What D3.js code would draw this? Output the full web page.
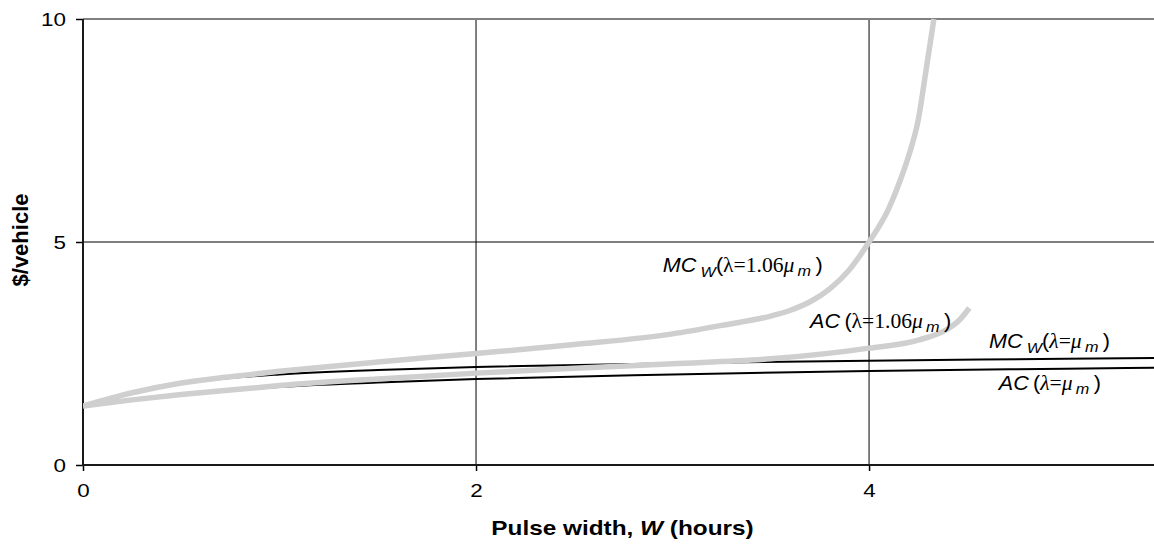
<!DOCTYPE html>
<html>
<head>
<meta charset="utf-8">
<script src="https://cdn.jsdelivr.net/npm/d3@7"></script>
<style>
  body { margin: 0; background: #fff; }
  svg { display: block; font-family: Arial, "Liberation Sans", sans-serif; }
</style>
</head>
<body>
<div id="chart"></div>
<script>
// Pulse width W (hours) and $/vehicle
const mcHighW = [0, 0.25, 0.5, 0.75, 1, 1.5, 2, 2.5, 3, 3.25, 3.5, 3.6, 3.7, 3.8, 3.9, 4.0, 4.1, 4.16, 4.21, 4.25, 4.29, 4.33];
const mcHighV = [1.32, 1.62, 1.84, 1.98, 2.1, 2.31, 2.5, 2.7, 2.94, 3.13, 3.34, 3.47, 3.66, 3.95, 4.38, 5.0, 5.75, 6.4, 7.05, 7.73, 8.85, 10];

const acHighW = [0, 0.25, 0.5, 0.75, 1, 1.5, 2, 2.5, 3, 3.5, 4, 4.25, 4.4, 4.46, 4.51];
const acHighV = [1.32, 1.46, 1.58, 1.68, 1.78, 1.93, 2.06, 2.17, 2.27, 2.38, 2.62, 2.8, 3.05, 3.25, 3.52];

const mcLowW = [0, 0.25, 0.5, 0.75, 1, 1.5, 2, 3, 4, 5, 5.45];
const mcLowV = [1.32, 1.6, 1.82, 1.95, 2.03, 2.13, 2.2, 2.28, 2.34, 2.38, 2.4];

const acLowW = [0, 0.25, 0.5, 0.75, 1, 1.5, 2, 3, 4, 5, 5.45];
const acLowV = [1.32, 1.45, 1.57, 1.66, 1.75, 1.85, 1.93, 2.03, 2.11, 2.16, 2.18];

const xTicks = [0, 2, 4];
const yTicks = [0, 5, 10];

// label anchor points in data units (W, $/vehicle)
const labelW = [2.95, 3.70, 4.61, 4.66];
const labelV = [4.33, 3.07, 2.62, 1.68];
const labelHigh = [true, true, false, false];
const labelName = ["MC", "AC", "MC", "AC"];

const width = 1154, height = 552;
const margin = { top: 19, right: 0, bottom: 87, left: 83 };
const stretch = 1.18;   // the original text is wider than it is tall

const svg = d3.select('#chart').append('svg')
  .attr('width', width)
  .attr('height', height);

const x = d3.scaleLinear().domain([0, 5.45]).range([margin.left, width - margin.right]);
const y = d3.scaleLinear().domain([0, 10]).range([height - margin.bottom, margin.top]);

// grid lines
svg.append('g')
  .selectAll('line')
  .data(xTicks.filter(d => d > 0))
  .join('line')
  .attr('x1', d => x(d)).attr('x2', d => x(d))
  .attr('y1', y(0)).attr('y2', y(10))
  .attr('stroke', '#000').attr('stroke-width', 1);

svg.append('g')
  .selectAll('line')
  .data(yTicks.filter(d => d > 0 && d < 10))
  .join('line')
  .attr('x1', x(0)).attr('x2', width)
  .attr('y1', d => y(d)).attr('y2', d => y(d))
  .attr('stroke', '#000').attr('stroke-width', 1);

// top border in grey
svg.append('line')
  .attr('x1', x(0)).attr('x2', width)
  .attr('y1', y(10)).attr('y2', y(10))
  .attr('stroke', '#808080').attr('stroke-width', 2);

// axes
const xAxis = svg.append('g')
  .attr('transform', `translate(0,${y(0)})`)
  .call(d3.axisBottom(x).tickValues(xTicks).tickSize(6).tickPadding(12).tickFormat(d3.format('d')));
const yAxis = svg.append('g')
  .attr('transform', `translate(${x(0)},0)`)
  .call(d3.axisLeft(y).tickValues(yTicks).tickSize(7).tickPadding(10).tickFormat(d3.format('d')));

[xAxis, yAxis].forEach(a => {
  a.select('.domain').remove();
  a.selectAll('line').attr('stroke', '#000').attr('stroke-width', 1.5);
});
xAxis.selectAll('text')
  .attr('font-size', 19).attr('fill', '#000')
  .attr('transform', function () { return `translate(0,${d3.select(this).attr('y')}) scale(${stretch},1)`; })
  .attr('y', null);
yAxis.selectAll('text')
  .attr('font-size', 19).attr('fill', '#000')
  .attr('transform', function () { return `translate(${d3.select(this).attr('x')},0) scale(${stretch},1)`; })
  .attr('x', null);

svg.append('line')
  .attr('x1', x(0)).attr('x2', width)
  .attr('y1', y(0)).attr('y2', y(0))
  .attr('stroke', '#1a1a1a').attr('stroke-width', 2);
svg.append('line')
  .attr('x1', x(0)).attr('x2', x(0))
  .attr('y1', y(0) + 1).attr('y2', y(10))
  .attr('stroke', '#1a1a1a').attr('stroke-width', 2);

// curves
const line = d3.line()
  .x(d => x(d[0]))
  .y(d => y(d[1]))
  .curve(d3.curveMonotoneX);

const series = [
  { w: mcLowW, v: mcLowV, color: '#000', sw: 2 },
  { w: acLowW, v: acLowV, color: '#000', sw: 2 },
  { w: acHighW, v: acHighV, color: '#cfcfcf', sw: 5.5 },
  { w: mcHighW, v: mcHighV, color: '#cfcfcf', sw: 5.5 },
];

svg.append('clipPath').attr('id', 'plot-clip')
  .append('rect')
  .attr('x', x(0)).attr('y', y(10) - 1)
  .attr('width', width - x(0)).attr('height', y(0) - y(10) + 1);

svg.append('g')
  .attr('clip-path', 'url(#plot-clip)')
  .selectAll('path')
  .data(series)
  .join('path')
  .attr('d', s => line(s.w.map((w, i) => [w, s.v[i]])))
  .attr('fill', 'none')
  .attr('stroke', s => s.color)
  .attr('stroke-width', s => s.sw)
  .attr('stroke-linejoin', 'round');

// curve labels
const sans = 'Arial, "Liberation Sans", sans-serif';
const serif = '"Times New Roman", "Liberation Serif", serif';

labelW.forEach((w, i) => {
  const t = svg.append('text')
    .attr('transform', `translate(${x(w)},${y(labelV[i])}) scale(1.08,1)`)
    .attr('font-size', 20)
    .attr('fill', '#000');
  t.append('tspan').attr('font-family', sans).attr('font-style', 'italic').text(labelName[i]);
  if (labelName[i] === 'MC') {
    t.append('tspan').attr('font-family', sans).attr('font-style', 'italic')
      .attr('font-size', 15).attr('dx', 4).attr('dy', 5).text('W');
    t.append('tspan').attr('font-family', sans).attr('dy', -5).text('(');
  } else {
    t.append('tspan').attr('font-family', sans).attr('dx', 4).text('(');
  }
  t.append('tspan').attr('font-family', serif).attr('font-style', labelHigh[i] ? 'normal' : 'italic')
    .text('λ');
  t.append('tspan').attr('font-family', serif).text(labelHigh[i] ? '=1.06' : '=');
  t.append('tspan').attr('font-family', serif).attr('font-style', 'italic').text('μ');
  t.append('tspan').attr('font-family', sans).attr('font-style', 'italic')
    .attr('font-size', 15).attr('dx', 3).attr('dy', 4).text('m');
  t.append('tspan').attr('font-family', sans).attr('dx', 4).attr('dy', -4).text(')');
});

// axis titles
svg.append('text')
  .attr('transform', `translate(${(x(0) + x(5.45)) / 2 + 4},535) scale(1.16,1)`)
  .attr('text-anchor', 'middle')
  .attr('font-size', 21)
  .attr('font-weight', 'bold')
  .attr('fill', '#000')
  .call(t => {
    t.append('tspan').text('Pulse width, ');
    t.append('tspan').attr('font-style', 'italic').text('W');
    t.append('tspan').text(' (hours)');
  });

svg.append('text')
  .attr('transform', `translate(28,${(y(0) + y(10)) / 2 - 2}) rotate(-90)`)
  .attr('text-anchor', 'middle')
  .attr('font-size', 22)
  .attr('font-weight', 'bold')
  .attr('fill', '#000')
  .text('$/vehicle');
</script>
</body>
</html>
